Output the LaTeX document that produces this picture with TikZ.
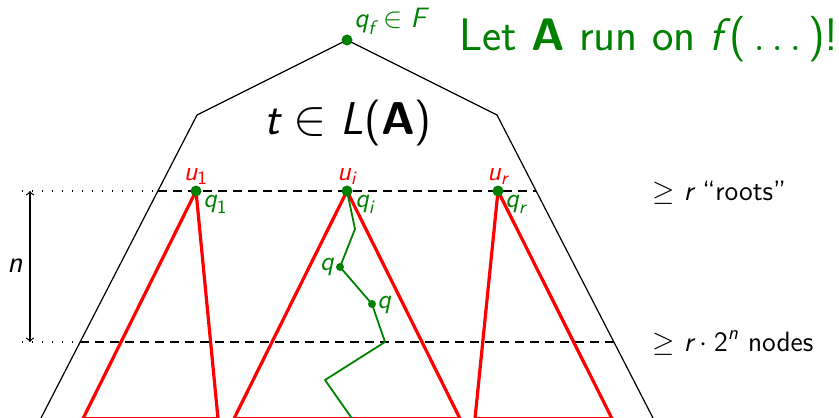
\documentclass[tikz,border=0pt]{standalone}
\usepackage{amsmath}
\definecolor{dgreen}{RGB}{0,128,0}
\newcommand{\mi}[1]{\textit{\sffamily #1}}
\newcommand{\up}[1]{\textup{\sffamily #1}}
\begin{document}
\begin{tikzpicture}[x=0.5pt,y=-0.5pt,
  outline/.style={black, line width=0.6pt, line join=round},
  level/.style={black, line width=0.6pt, dash pattern=on 4.5pt off 3pt},
  dotline/.style={black, line width=0.6pt, dash pattern=on 0.6pt off 4.4pt},
  subtree/.style={red, line width=1.6pt, line join=round},
  run/.style={dgreen, line width=0.9pt, line join=round},
  bigdot/.style={circle, fill=dgreen, inner sep=0pt, minimum size=5.5pt},
  smalldot/.style={circle, fill=dgreen, inner sep=0pt, minimum size=4pt},
  lbl/.style={inner sep=0pt, font=\sffamily\fontsize{13.5}{16}\selectfont},
  side/.style={inner sep=0pt, anchor=base west, font=\sffamily\fontsize{14}{17}\selectfont},
]
\useasboundingbox (0,0) rectangle (839,417);
% key points
\coordinate (top) at (347,40);
\coordinate (lc) at (197,115);
\coordinate (rc) at (497,115);
\coordinate (lb) at (41,418);
\coordinate (rb) at (653,418);
\coordinate (u1p) at (196,191);
\coordinate (uip) at (347,191);
\coordinate (urp) at (498,191);
% outer tree
\draw[outline] (lb) -- (lc) -- (top) -- (rc) -- (rb);
% levels
\coordinate (t0) at (22,191);
\coordinate (t1) at (158,191);
\coordinate (t2) at (536,191);
\coordinate (b0) at (22,342);
\coordinate (b1) at (80,342);
\coordinate (b2) at (614,342);
\draw[dotline] (t0) -- (t1);
\draw[level] (t1) -- (t2);
\draw[dotline] (b0) -- (b1);
\draw[level] (b1) -- (b2);
% height arrow
\coordinate (na) at (30,191);
\coordinate (nb) at (30,342);
\draw[black, line width=0.6pt, <->] (na) -- (nb);
\node[lbl, anchor=base west, font=\sffamily\fontsize{15}{18}\selectfont] (nlab) at (7,272) {$\mi{n}$};
% subtrees
\coordinate (t1l) at (83,418.6);
\coordinate (t1r) at (218,418.6);
\coordinate (til) at (234,418.6);
\coordinate (tir) at (460,418.6);
\coordinate (trl) at (475,418.6);
\coordinate (trr) at (612,418.6);
\draw[subtree] (u1p) -- (t1l) -- (t1r) -- cycle;
\draw[subtree] (uip) -- (til) -- (tir) -- cycle;
\draw[subtree] (urp) -- (trl) -- (trr) -- cycle;
% run path
\coordinate (p1) at (355,229);
\coordinate (qa) at (340,267);
\coordinate (qb) at (372,304);
\coordinate (p4) at (385,342);
\coordinate (p5) at (325,380);
\coordinate (p6) at (353,420);
\draw[run] (uip) -- (p1) -- (qa) -- (qb) -- (p4) -- (p5) -- (p6);
% dots
\node[bigdot] (qf) at (top) {};
\node[bigdot] (u1) at (u1p) {};
\node[bigdot] (ui) at (uip) {};
\node[bigdot] (ur) at (urp) {};
\node[smalldot] (qad) at (qa) {};
\node[smalldot] (qbd) at (qb) {};
% labels
\node[lbl, text=red, anchor=base] (u1lab) at (196,180) {$\mi{u}_{\up{1}}$};
\node[lbl, text=red, anchor=base] (uilab) at (347,180) {$\mi{u}_{\mi{i}}$};
\node[lbl, text=red, anchor=base] (urlab) at (498,180) {$\mi{u}_{\mi{r}}$};
\node[lbl, text=dgreen, anchor=base west] (q1lab) at (203,207) {$\mi{q}_{\up{1}}$};
\node[lbl, text=dgreen, anchor=base west] (qilab) at (355,207) {$\mi{q}_{\mi{i}}$};
\node[lbl, text=dgreen, anchor=base west] (qrlab) at (505,207) {$\mi{q}_{\mi{r}}$};
\node[lbl, text=dgreen, anchor=base east] (qalab) at (334,270) {$\mi{q}$};
\node[lbl, text=dgreen, anchor=base west] (qblab) at (377,308) {$\mi{q}$};
\node[inner sep=0pt, text=dgreen, anchor=base west, font=\sffamily\fontsize{14}{17}\selectfont] (qflab) at (354,28) {$\mi{q}_{\mi{f}}\in \mi{F}$};
\node[inner sep=0pt, text=dgreen, anchor=base west, font=\sffamily\fontsize{22.8}{27}\selectfont] (letlab) at (459,51) {Let \textbf{A} run on $\mi{f}\,\up{(}\ldots\up{)}$!};
\node[inner sep=0pt, anchor=base, font=\sffamily\fontsize{23}{27}\selectfont] (tlab) at (348,134) {$\mi{t}\in \mi{L}\up{(}\textbf{\sffamily A}\up{)}$};
\node[side] (rootlab) at (652,200) {$\geq$ $\mi{r}$ “roots”};
\node[side] (nodelab) at (652,351) {$\geq$ $\mi{r}\cdot\up{2}^{\mi{n}}$ nodes};
\end{tikzpicture}
\end{document}
